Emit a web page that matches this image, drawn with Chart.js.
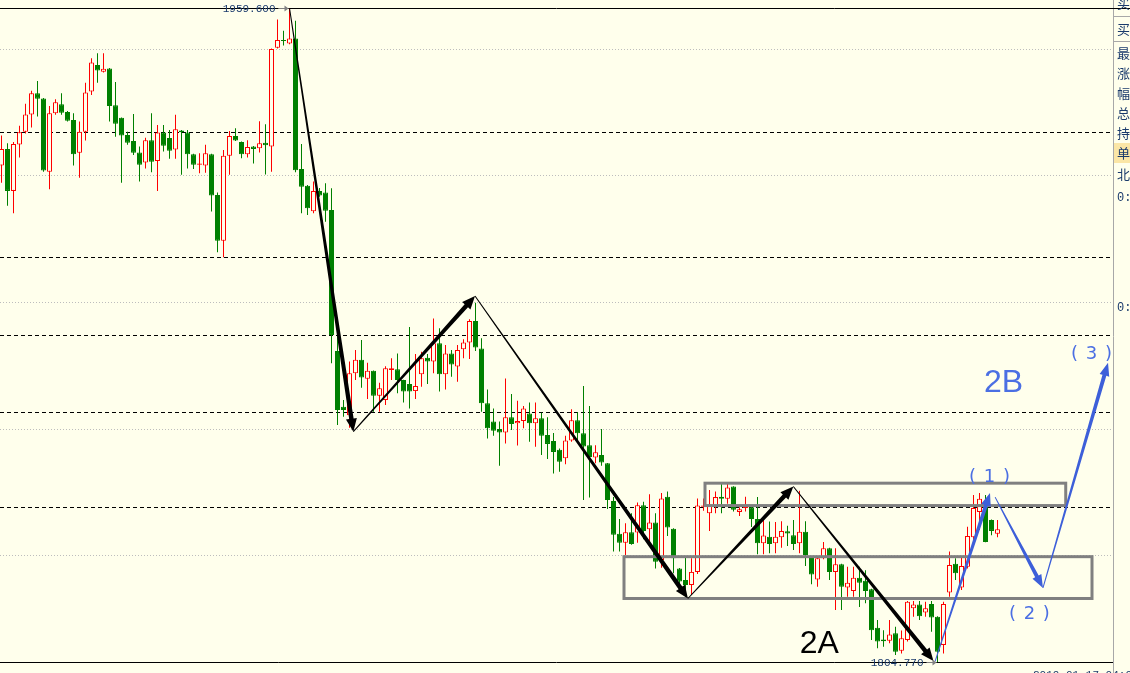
<!DOCTYPE html>
<html>
<head>
<meta charset="utf-8">
<script src="https://cdn.jsdelivr.net/npm/chart.js@4.4.1/dist/chart.umd.min.js"></script>
<style>
  html, body { margin: 0; padding: 0; background: #ffffec; }
  #kline { display: block; }
</style>
</head>
<body>
<canvas id="kline" width="1130" height="673"></canvas>
<script>
// K线数据 (开 高 低 收), 每根一个索引
const opens = [
  1922.3,1926.2,1916.3,1927.3,1930.3,1934.4,1939.4,1938.2,1920.8,1934.7,
  1936.8,1935.0,1933.1,1925.3,1930.3,1939.8,1946.1,1944.5,1945.3,1936.6,
  1933.6,1929.5,1928.1,1925.4,1923.0,1928.3,1923.4,1930.1,1928.8,1926.1,
  1930.6,1930.1,1925.0,1922.5,1922.3,1925.0,1915.3,1904.5,1924.6,1929.3,
  1927.9,1925.0,1926.8,1926.4,1927.7,1926.8,1950.2,1952.0,1951.2,1952.4,
  1921.5,1917.5,1911.5,1916.3,1915.9,1911.8,1878.4,1865.2,1863.2,1873.1,
  1876.3,1871.8,1873.7,1867.8,1866.8,1873.9,1874.1,1871.5,1870.6,1868.9,
  1872.9,1876.8,1875.9,1880.2,1872.9,1877.8,1874.7,1878.8,1880.4,1885.5,
  1879.0,1866.0,1861.7,1859.9,1859.1,1862.7,1861.3,1861.8,1863.6,1861.3,
  1862.5,1858.5,1857.1,1855.0,1853.0,1857.2,1862.0,1858.9,1856.1,1853.2,
  1853.8,1851.8,1842.9,1835.1,1833.0,1835.5,1835.4,1841.9,1836.2,1837.8,
  1828.9,1843.9,1836.3,1826.9,1824.2,1823.0,1826.1,1841.5,1840.0,1841.7,
  1843.9,1843.4,1846.3,1840.3,1841.2,1841.4,1838.6,1832.9,1834.4,1832.9,
  1834.3,1835.7,1834.8,1832.9,1835.6,1829.7,1824.3,1829.3,1831.7,1826.1,
  1827.9,1822.4,1821.6,1824.7,1824.0,1822.0,1812.9,1810.1,1809.8,1811.6,
  1807.4,1810.0,1817.5,1818.4,1816.5,1818.5,1815.5,1808.8,1821.2,1828.0,
  1822.4,1827.3,1834.3,1840.3,1841.5,1838.4,1835.1
];
const highs = [
  1929.4,1927.6,1927.9,1931.7,1936.9,1940.0,1942.3,1938.3,1936.4,1938.0,
  1939.4,1935.2,1934.7,1932.7,1941.9,1947.7,1948.9,1948.9,1945.4,1942.1,
  1933.7,1930.3,1934.5,1926.8,1928.9,1934.7,1931.9,1931.9,1930.7,1934.3,
  1930.7,1930.7,1925.1,1925.2,1927.2,1925.1,1915.9,1926.0,1930.5,1931.1,
  1928.0,1928.3,1926.9,1932.8,1932.1,1950.0,1956.9,1954.2,1959.6,1956.6,
  1927.4,1917.7,1918.5,1917.0,1918.1,1916.9,1882.2,1866.8,1875.9,1878.6,
  1881.0,1875.6,1873.8,1870.9,1874.8,1876.7,1877.8,1871.6,1884.1,1877.7,
  1878.2,1877.7,1886.1,1883.8,1879.8,1878.6,1879.8,1881.2,1885.9,1889.8,
  1881.4,1869.3,1864.8,1861.7,1871.9,1868.2,1866.6,1865.4,1866.2,1866.2,
  1863.8,1862.7,1859.0,1855.3,1858.3,1864.6,1863.9,1870.1,1865.4,1856.1,
  1859.9,1851.9,1843.8,1838.6,1837.6,1840.0,1842.5,1842.7,1844.5,1840.0,
  1844.8,1845.1,1836.4,1827.0,1829.5,1829.3,1843.5,1843.5,1845.5,1845.1,
  1846.9,1847.1,1846.4,1841.4,1843.9,1841.6,1843.8,1838.4,1838.0,1837.9,
  1838.1,1837.0,1838.4,1845.3,1838.1,1829.8,1829.8,1833.2,1831.8,1831.7,
  1828.0,1827.3,1827.3,1827.3,1826.5,1822.1,1814.7,1812.3,1814.7,1813.1,
  1812.2,1819.2,1819.2,1819.2,1819.0,1819.2,1815.6,1819.0,1830.9,1829.3,
  1829.7,1836.8,1844.3,1844.8,1844.3,1838.5,1838.4
];
const lows = [
  1918.2,1912.8,1911.0,1924.2,1929.9,1931.3,1933.9,1920.8,1916.7,1934.3,
  1934.3,1932.7,1922.3,1919.4,1928.2,1939.0,1941.9,1944.3,1932.7,1929.1,
  1918.2,1927.2,1924.8,1918.5,1921.6,1920.7,1916.3,1925.6,1923.9,1923.9,
  1920.1,1921.6,1921.5,1920.5,1920.6,1911.4,1901.8,1900.6,1920.1,1928.1,
  1924.0,1924.2,1922.8,1925.4,1920.2,1920.8,1950.0,1950.7,1951.0,1920.7,
  1911.0,1910.6,1911.0,1914.9,1909.0,1875.5,1860.9,1862.8,1860.2,1871.5,
  1869.7,1867.0,1864.0,1864.0,1865.6,1871.5,1868.4,1866.2,1864.8,1867.0,
  1869.9,1870.6,1873.1,1868.8,1869.3,1872.3,1871.1,1876.7,1876.5,1878.4,
  1864.0,1857.7,1858.3,1851.2,1856.5,1859.7,1856.0,1860.1,1856.9,1855.7,
  1853.8,1852.8,1849.4,1849.8,1851.6,1856.9,1857.3,1843.1,1843.7,1851.8,
  1851.2,1841.0,1830.9,1830.9,1830.1,1832.5,1833.0,1833.8,1833.2,1826.9,
  1827.1,1834.6,1825.8,1821.4,1819.8,1820.6,1825.6,1840.6,1835.8,1840.0,
  1840.0,1842.2,1840.4,1839.3,1840.4,1836.7,1830.3,1830.3,1830.5,1830.5,
  1831.8,1832.2,1831.3,1830.5,1827.5,1823.2,1822.6,1829.1,1824.2,1817.1,
  1817.1,1820.2,1820.2,1817.8,1818.7,1810.0,1808.0,1808.4,1809.2,1806.4,
  1806.8,1809.6,1815.5,1814.7,1815.5,1811.9,1804.77,1806.8,1820.2,1824.2,
  1821.8,1826.9,1833.6,1836.0,1833.1,1834.8,1834.3
];
const closes = [
  1926.2,1916.3,1927.4,1930.2,1934.4,1939.4,1938.1,1921.1,1934.7,1937.3,
  1934.8,1932.9,1925.0,1930.3,1939.6,1946.7,1944.8,1945.2,1936.4,1932.2,
  1929.4,1927.7,1925.3,1922.5,1928.3,1923.2,1930.1,1927.0,1925.8,1930.9,
  1930.2,1925.0,1922.5,1922.8,1925.2,1915.2,1904.5,1924.6,1929.3,1928.2,
  1925.0,1926.7,1926.2,1927.6,1927.1,1949.9,1952.0,1951.8,1952.4,1921.2,
  1917.3,1912.2,1916.3,1915.2,1911.6,1882.2,1864.4,1864.4,1873.1,1876.3,
  1872.1,1873.7,1867.8,1869.6,1874.3,1874.3,1871.5,1868.8,1868.8,1870.1,
  1876.7,1875.9,1880.2,1872.9,1877.8,1875.2,1878.6,1880.4,1885.5,1879.2,
  1866.0,1860.1,1859.5,1859.1,1862.7,1861.1,1861.8,1864.8,1861.3,1862.5,
  1858.3,1856.4,1854.5,1852.2,1857.2,1862.0,1858.9,1855.8,1853.3,1854.4,
  1852.0,1843.1,1834.9,1833.0,1835.5,1832.7,1841.9,1835.8,1837.8,1828.5,
  1843.5,1836.6,1829.3,1823.8,1823.0,1826.1,1841.8,1841.8,1841.7,1843.8,
  1843.4,1846.1,1840.8,1840.9,1841.9,1838.6,1832.9,1834.7,1832.7,1834.4,
  1835.8,1835.2,1832.7,1835.6,1830.1,1825.5,1829.3,1831.7,1826.1,1827.9,
  1822.6,1823.5,1824.7,1823.5,1821.6,1812.3,1809.6,1809.7,1811.3,1807.2,
  1810.4,1819.0,1818.4,1815.6,1817.5,1815.3,1807.2,1818.5,1827.7,1825.8,
  1827.5,1834.6,1841.2,1843.4,1833.2,1835.8,1836.2
];

// 水平线
const gridLevels = [1950, 1920, 1890, 1860, 1830];          // 灰色点线
const dashLevels = [1930.2, 1900.6, 1882.2, 1863.9, 1841.4]; // 黑色虚线
const highMark = { index: 48, value: 1959.6, label: '1959.600' };
const lowMark = { index: 156, value: 1804.77, label: '1804.770' };

// 波浪箭头 [起点索引, 起点价格, 终点索引, 终点价格]
const blackArrows = [
  [48.0, 1959.6, 58.64, 1859.3],
  [58.64, 1859.3, 78.92, 1891.4],
  [78.92, 1891.4, 114.4, 1819.8],
  [114.4, 1819.8, 131.97, 1846.3],
  [131.97, 1846.3, 155.33, 1805.0]
];
const blueArrows = [
  [155.6, 1804.9, 164.75, 1844.8],
  [165.6, 1843.8, 173.58, 1822.3],
  [173.58, 1822.3, 184.42, 1875.6]
];
// 区间框 [左索引, 上价格, 右索引, 下价格]
const zones = [
  [117.25, 1847.1, 177.37, 1841.8],
  [103.75, 1829.7, 181.75, 1819.8]
];
// 文字标注 [文字, 中心索引, 中心价格]
const waveLabels = [
  ['2A', 136.3, 1809.1, 'black'],
  ['2B', 167.0, 1870.8, 'blue'],
  ['( 1 )', 164.75, 1848.4, 'blue'],
  ['( 2 )', 171.4, 1816.0, 'blue'],
  ['( 3 )', 181.75, 1877.6, 'blue']
];
const sideLabels = ['买', '买', '最', '涨', '幅', '总', '持', '单', '北'];

const BG = '#ffffec';
const UP = '#ff0000';
const DOWN = '#008000';
const BLUE = '#3d5fd9';

const bodies = opens.map((o, i) => ({ x: i, y: [o, closes[i]] }));
const wicks = opens.map((o, i) => ({ x: i, y: [lows[i], highs[i]] }));
const isUp = opens.map((o, i) => closes[i] >= o);

function taperArrow(ctx, x0, y0, x1, y1, w0, w1, headL, headW, color) {
  const dx = x1 - x0, dy = y1 - y0, len = Math.hypot(dx, dy);
  const ux = dx / len, uy = dy / len, nx = -uy, ny = ux;
  const bx = x1 - ux * headL, by = y1 - uy * headL;
  ctx.beginPath();
  ctx.moveTo(x0 + nx * w0 / 2, y0 + ny * w0 / 2);
  ctx.lineTo(bx + nx * w1 / 2, by + ny * w1 / 2);
  ctx.lineTo(bx + nx * headW / 2, by + ny * headW / 2);
  ctx.lineTo(x1, y1);
  ctx.lineTo(bx - nx * headW / 2, by - ny * headW / 2);
  ctx.lineTo(bx - nx * w1 / 2, by - ny * w1 / 2);
  ctx.lineTo(x0 - nx * w0 / 2, y0 - ny * w0 / 2);
  ctx.closePath();
  ctx.fillStyle = color;
  ctx.fill();
}

function hline(ctx, x0, x1, py) {
  ctx.beginPath();
  ctx.moveTo(x0, py);
  ctx.lineTo(x1, py);
  ctx.stroke();
}

const overlay = {
  id: 'overlay',
  beforeDatasetsDraw(chart) {
    const { ctx, chartArea: a, scales: { y } } = chart;
    const py = v => Math.round(y.getPixelForValue(v)) + 0.5;
    ctx.save();
    ctx.lineWidth = 1;
    ctx.strokeStyle = '#bdbdbd';
    ctx.setLineDash([1, 2]);
    gridLevels.forEach(v => hline(ctx, a.left, a.right, py(v)));
    ctx.strokeStyle = '#000';
    ctx.setLineDash([4, 3]);
    dashLevels.forEach(v => hline(ctx, a.left, a.right, py(v)));
    ctx.setLineDash([]);
    hline(ctx, a.left, a.right, py(highMark.value));
    hline(ctx, a.left, a.right, py(lowMark.value));
    ctx.restore();
  },
  afterDatasetsDraw(chart) {
    const { ctx, chartArea: a, scales: { x, y } } = chart;
    ctx.save();

    // 区间框
    ctx.strokeStyle = '#808080';
    ctx.lineWidth = 3;
    zones.forEach(z => {
      const l = x.getPixelForValue(z[0]), r = x.getPixelForValue(z[2]);
      const t = y.getPixelForValue(z[1]), b = y.getPixelForValue(z[3]);
      ctx.strokeRect(l, t, r - l, b - t);
    });

    // 箭头
    blackArrows.forEach(s => taperArrow(ctx,
      x.getPixelForValue(s[0]), y.getPixelForValue(s[1]),
      x.getPixelForValue(s[2]), y.getPixelForValue(s[3]), 1, 4.5, 13, 11, '#000'));
    blueArrows.forEach(s => taperArrow(ctx,
      x.getPixelForValue(s[0]), y.getPixelForValue(s[1]),
      x.getPixelForValue(s[2]), y.getPixelForValue(s[3]), 1, 4, 13, 10, BLUE));

    // 最高/最低价标签
    ctx.font = '11px "Liberation Mono", monospace';
    ctx.textBaseline = 'middle';
    ctx.textAlign = 'right';
    [highMark, lowMark].forEach(m => {
      const px = x.getPixelForValue(m.index), yy = Math.round(y.getPixelForValue(m.value)) + 0.5;
      ctx.fillStyle = '#1a3a6b';
      ctx.fillText(m.label, px - 14, yy + 0.5);
      ctx.strokeStyle = '#808080';
      ctx.lineWidth = 1;
      hline(ctx, px - 11, px - 1, yy);
      ctx.beginPath();
      ctx.moveTo(px - 1, yy);
      ctx.lineTo(px - 5, yy - 3);
      ctx.lineTo(px - 5, yy + 3);
      ctx.closePath();
      ctx.fillStyle = '#808080';
      ctx.fill();
    });

    // 波浪文字
    ctx.textAlign = 'center';
    waveLabels.forEach(([t, i, v, c]) => {
      const big = t.length === 2;
      ctx.font = big ? '32px "Liberation Sans", Arial' : '18px "DejaVu Sans"';
      ctx.letterSpacing = big ? '0px' : '1px';
      ctx.fillStyle = c === 'black' ? '#000' : '#4b6fe3';
      ctx.fillText(t, x.getPixelForValue(i), y.getPixelForValue(v));
    });
    ctx.letterSpacing = '0px';

    // 底部时间 (被截断)
    ctx.textAlign = 'left';
    ctx.textBaseline = 'top';
    ctx.font = '11px "Liberation Mono", monospace';
    ctx.fillStyle = '#1a3a6b';
    ctx.fillText('2019.01.17 04:00', 1033, 670);

    // 右侧面板
    const W = chart.width;
    ctx.fillStyle = '#fbe6a6';
    ctx.fillRect(a.right + 1, 143, W - a.right, 20);
    ctx.strokeStyle = '#a8a8a8';
    ctx.lineWidth = 1;
    ctx.beginPath();
    ctx.moveTo(a.right + 0.5, 0);
    ctx.lineTo(a.right + 0.5, chart.height);
    ctx.stroke();
    hline(ctx, a.right, W, 16.5);
    hline(ctx, a.right, W, 41.5);
    ctx.strokeStyle = '#000';
    hline(ctx, a.right, W, 8.5);
    ctx.font = '13px "Noto Sans CJK SC"';
    ctx.fillStyle = '#1a3a6b';
    ctx.textBaseline = 'middle';
    const rowsY = [3, 29, 53, 73, 93, 113, 133, 153, 174];
    sideLabels.forEach((t, k) => ctx.fillText(t, a.right + 4, rowsY[k]));
    ctx.font = '12px "Liberation Mono", monospace';
    ctx.fillText('0:', a.right + 4, 198);
    ctx.fillText('0:', a.right + 4, 308);
    ctx.restore();
  }
};

new Chart(document.getElementById('kline'), {
  type: 'bar',
  data: {
    datasets: [
      {
        label: 'body',
        data: bodies,
        order: 0,
        grouped: false,
        barThickness: 5,
        minBarLength: 1,
        inflateAmount: 0,
        borderWidth: 1,
        borderSkipped: false,
        backgroundColor: isUp.map(u => u ? BG : DOWN),
        borderColor: isUp.map(u => u ? UP : DOWN)
      },
      {
        label: 'wick',
        data: wicks,
        order: 1,
        grouped: false,
        barThickness: 1,
        inflateAmount: 0,
        borderWidth: 0,
        backgroundColor: isUp.map(u => u ? UP : DOWN)
      }
    ]
  },
  options: {
    responsive: false,
    animation: false,
    events: [],
    layout: { padding: { left: 0, top: 0, bottom: 0, right: 17 } },
    plugins: { legend: { display: false }, tooltip: { enabled: false } },
    scales: {
      x: { type: 'linear', min: -0.25, max: 185.25, offset: false, display: false },
      y: { type: 'linear', min: 1802.16, max: 1961.49, display: false }
    }
  },
  plugins: [overlay]
});
</script>
</body>
</html>
